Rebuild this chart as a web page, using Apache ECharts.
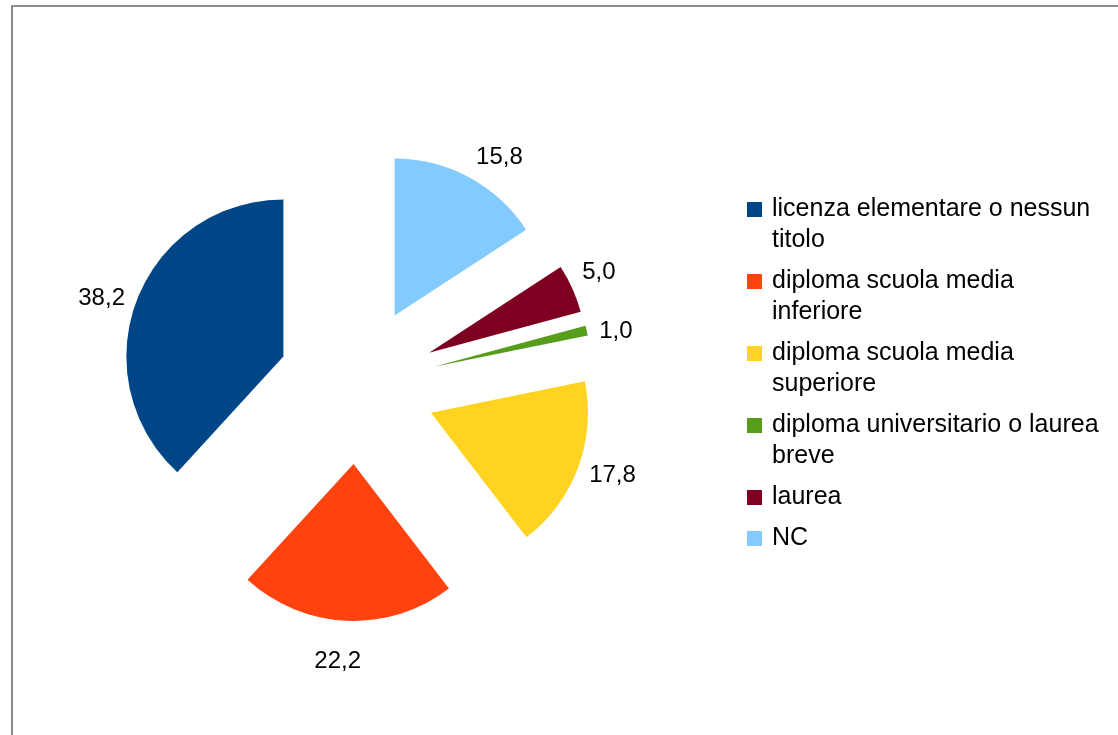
<!DOCTYPE html>
<html>
<head>
<meta charset="utf-8">
<script src="https://cdn.jsdelivr.net/npm/echarts@6/dist/echarts.min.js"></script>
<style>
  html, body { margin: 0; padding: 0; background: #ffffff; }
  #chart { width: 1118px; height: 735px; }
</style>
</head>
<body>
<div id="chart"></div>
<script>
// Titolo di studio: categories, values (%) and slice colours
const categories = [
  'licenza elementare o nessun titolo',
  'diploma scuola media inferiore',
  'diploma scuola media superiore',
  'diploma universitario o laurea breve',
  'laurea',
  'NC'
];
const values = [38.2, 22.2, 17.8, 1.0, 5.0, 15.8];
const colors = ['#004586', '#ff420e', '#ffd320', '#579d1c', '#7e0021', '#83caff'];

// Legend text split over two lines where it wraps
const legendLines = {
  'licenza elementare o nessun titolo': 'licenza elementare o nessun\ntitolo',
  'diploma scuola media inferiore': 'diploma scuola media\ninferiore',
  'diploma scuola media superiore': 'diploma scuola media\nsuperiore',
  'diploma universitario o laurea breve': 'diploma universitario o laurea\nbreve',
  'laurea': 'laurea',
  'NC': 'NC'
};

const FONT = '"Liberation Sans", Arial, sans-serif';
const LINE_H = 31;

// Small nudges (px) for value labels, keyed by slice index
const labelNudge = { 0: [1, 4], 1: [15, 27], 4: [-3, -10], 5: [0, -8], 3: [-1, 4], 2: [-2, 3] };

// Legend swatches: a 15px square plus invisible move-to points that widen the
// icon box (text gap) and, for wrapped entries, pin the square to the first line.
const ICON_TWO_LINES = 'path://M0,0L15,0L15,15L0,15ZM20,46';
const ICON_ONE_LINE = 'path://M0,0L15,0L15,15L0,15ZM20,0';

const chart = echarts.init(document.getElementById('chart'), null, { renderer: 'canvas' });

const legendData = categories.map(function (name) {
  const twoLines = legendLines[name].indexOf('\n') >= 0;
  return { name: name, icon: twoLines ? ICON_TWO_LINES : ICON_ONE_LINE };
});

chart.setOption({
  backgroundColor: '#ffffff',
  animation: false,
  color: colors,
  graphic: [{
    type: 'rect',
    shape: { x: 12, y: 6, width: 1200, height: 800 },
    style: { fill: 'none', stroke: '#6a6a6a', lineWidth: 1.6 },
    silent: true,
    z: 0
  }],
  legend: {
    orient: 'vertical',
    left: 742,
    top: 189,
    itemWidth: 20,
    itemHeight: 46,
    itemGap: 10,
    symbolKeepAspect: true,
    selectedMode: false,
    data: legendData,
    formatter: function (name) { return legendLines[name]; },
    textStyle: {
      fontFamily: FONT,
      fontSize: 25,
      color: '#000000',
      lineHeight: LINE_H
    }
  },
  series: [{
    type: 'pie',
    center: [357, 385],
    radius: [0, 157],
    startAngle: 90,
    clockwise: false,
    selectedMode: 'multiple',
    selectedOffset: 79,
    avoidLabelOverlap: false,
    emphasis: { disabled: true },
    label: {
      show: true,
      position: 'outside',
      fontFamily: FONT,
      fontSize: 24,
      color: '#000000',
      distanceToLabelLine: 0,
      formatter: function (p) { return p.value.toFixed(1).replace('.', ','); }
    },
    labelLine: { show: false, length: 14, length2: 0 },
    labelLayout: function (p) {
      const n = labelNudge[p.dataIndex] || [0, 0];
      return { dx: n[0], dy: n[1] };
    },
    data: categories.map(function (name, i) {
      return { name: name, value: values[i], selected: true };
    })
  }]
});
</script>
</body>
</html>
